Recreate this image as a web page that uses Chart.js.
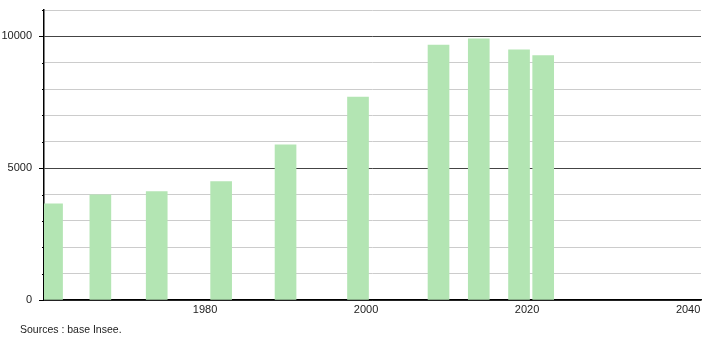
<!DOCTYPE html>
<html>
<head>
<meta charset="utf-8">
<script src="https://cdn.jsdelivr.net/npm/chart.js@4/dist/chart.umd.min.js"></script>
<style>
  html, body { margin: 0; padding: 0; background: #fff; }
  #wrap { position: relative; width: 710px; height: 340px; }
  #c { display: block; }
  #src { position: absolute; left: 20px; top: 323px; font: 10.5px "Liberation Sans", Arial, sans-serif; color: #222; white-space: nowrap; }
</style>
</head>
<body>
<div id="wrap">
  <canvas id="c" width="710" height="340"></canvas>
  <div id="src">Sources : base Insee.</div>
</div>
<script>
const years = [1961, 1967, 1974, 1982, 1990, 1999, 2009, 2014, 2019, 2022];
const population = [3650, 3990, 4110, 4490, 5890, 7700, 9670, 9910, 9490, 9270];
const xTickLabels = [1980, 2000, 2020, 2040];
const yLabelledTicks = [0, 5000, 10000];

const points = years.map((y, i) => ({ x: y, y: population[i] }));

const tickMarks = {
  id: 'tickMarks',
  afterDraw(chart) {
    const ys = chart.scales.y;
    const ctx = chart.ctx;
    const x0 = chart.chartArea.left;
    ctx.save();
    ctx.strokeStyle = '#000';
    ctx.lineWidth = 1;
    for (let v = 0; v <= 11000; v += 1000) {
      const py = Math.round(ys.getPixelForValue(v)) + 0.5;
      const len = yLabelledTicks.includes(v) ? 5 : 2;
      ctx.beginPath();
      ctx.moveTo(x0 - len, py);
      ctx.lineTo(x0, py);
      ctx.stroke();
    }
    ctx.restore();
  }
};

new Chart(document.getElementById('c'), {
  type: 'bar',
  data: {
    datasets: [{
      data: points,
      backgroundColor: '#b3e5b3',
      borderWidth: 0,
      barThickness: 21
    }]
  },
  options: {
    responsive: false,
    animation: false,
    layout: { padding: { top: 10, right: 9, left: 0, bottom: 0 } },
    plugins: { legend: { display: false }, tooltip: { enabled: false } },
    scales: {
      x: {
        type: 'linear',
        offset: false,
        min: 1960,
        max: 2041.6,
        afterBuildTicks(scale) { scale.ticks = xTickLabels.map(v => ({ value: v })); },
        afterFit(scale) { scale.height = 40; },
        grid: { display: false, drawTicks: false, offset: false },
        border: { display: true, color: '#000', width: 1.5 },
        ticks: {
          padding: 3,
          maxRotation: 0,
          autoSkip: false,
          color: '#222',
          font: { family: '"Liberation Sans", Arial, sans-serif', size: 11 },
          callback: v => String(v)
        }
      },
      y: {
        min: 0,
        max: 11000,
        afterBuildTicks(scale) {
          const t = [];
          for (let v = 0; v <= 11000; v += 1000) t.push({ value: v });
          scale.ticks = t;
        },
        afterFit(scale) { scale.width = 44; },
        grid: {
          drawTicks: true,
          tickLength: 12,
          tickColor: 'rgba(0,0,0,0)',
          color: ctx => (ctx.tick && ctx.tick.value % 5000 === 0) ? '#444' : '#cccccc',
          lineWidth: 1
        },
        border: { display: true, color: '#000', width: 1.5 },
        ticks: {
          padding: 0,
          autoSkip: false,
          color: '#222',
          font: { family: '"Liberation Sans", Arial, sans-serif', size: 11 },
          callback: v => yLabelledTicks.includes(v) ? String(v) : ''
        }
      }
    }
  },
  plugins: [tickMarks]
});
</script>
</body>
</html>
